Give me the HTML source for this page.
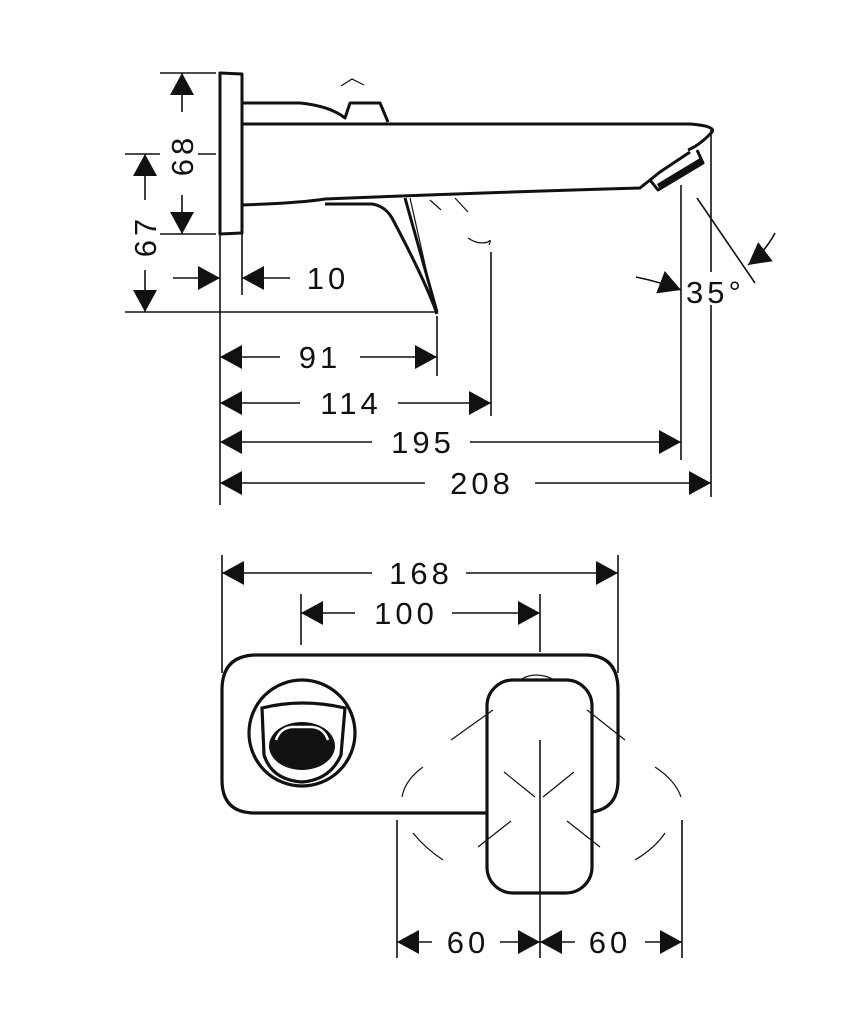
<!DOCTYPE html>
<html><head><meta charset="utf-8"><style>
html,body{margin:0;padding:0;background:#fff}
svg{display:block}
text{font-family:"Liberation Sans",sans-serif;font-size:31px;fill:#111;letter-spacing:4px}
</style></head><body>
<svg width="864" height="1024" viewBox="0 0 864 1024" xmlns="http://www.w3.org/2000/svg">
<defs>
<marker id="a" viewBox="0 0 22 24" refX="22" refY="12" markerWidth="22" markerHeight="24" markerUnits="userSpaceOnUse" orient="auto"><path d="M0,0 L22,12 L0,24 Z" fill="#111"/></marker>
</defs>
<g stroke="#111" fill="none" stroke-width="1.6">
<line x1="160" y1="73" x2="216" y2="73"/>
<line x1="160" y1="234" x2="216" y2="234"/>
<line x1="125" y1="154" x2="160" y2="154"/><line x1="198" y1="154" x2="216" y2="154"/>
<line x1="125" y1="312" x2="436" y2="312"/>
<line x1="220" y1="234" x2="220" y2="505"/>
<line x1="242" y1="234" x2="242" y2="295"/>
<line x1="437" y1="316" x2="437" y2="376"/>
<line x1="491" y1="252" x2="491" y2="416"/>
<line x1="681" y1="185" x2="681" y2="460"/>
<line x1="711" y1="130" x2="711" y2="272"/><line x1="711" y1="305" x2="711" y2="497"/>
<line x1="182" y1="112" x2="182" y2="73" marker-end="url(#a)"/>
<line x1="182" y1="195" x2="182" y2="234" marker-end="url(#a)"/>
<line x1="145" y1="200" x2="145" y2="154" marker-end="url(#a)"/>
<line x1="145" y1="270" x2="145" y2="312" marker-end="url(#a)"/>
<line x1="173" y1="278" x2="220" y2="278" marker-end="url(#a)"/>
<line x1="290" y1="278" x2="242" y2="278" marker-end="url(#a)"/>
<line x1="280" y1="357" x2="220" y2="357" marker-end="url(#a)"/><line x1="360" y1="357" x2="437" y2="357" marker-end="url(#a)"/>
<line x1="300" y1="403" x2="220" y2="403" marker-end="url(#a)"/><line x1="398" y1="403" x2="491" y2="403" marker-end="url(#a)"/>
<line x1="372" y1="442" x2="220" y2="442" marker-end="url(#a)"/><line x1="470" y1="442" x2="681" y2="442" marker-end="url(#a)"/>
<line x1="425" y1="483" x2="220" y2="483" marker-end="url(#a)"/><line x1="535" y1="483" x2="711" y2="483" marker-end="url(#a)"/>
<path d="M636,277 Q660,282 681,290" marker-end="url(#a)"/>
<path d="M775,233 Q765,252 748,265" marker-end="url(#a)"/>
<line x1="697" y1="198" x2="755" y2="283"/>
</g>
<g stroke="#111" fill="none" stroke-width="3" stroke-linejoin="round">
<path d="M220,73 L242,74 L242,233 L220,234 Z"/>
<path d="M242,103 L300,103 Q330,106 345,118 L350,103 L380,103 L388,122"/>
<path d="M242,124 L690,124 Q716,126 712,132 Q700,145 688,150"/>
<path d="M242,205 Q300,203 325,199 Q500,192 640,188 Q650,180 660,172 L690,152"/>
<path d="M650,180 L658,190 L703,163 L697,150"/>
<path d="M325,204 L372,204 Q385,206 392,218 Q425,280 437,314"/>
<path d="M405,198 L437,312"/>
</g>
<path d="M660,190 L703,164 L700,158 L657,184 Z" fill="#111"/>
<g stroke="#111" fill="none" stroke-width="1.2">
<path d="M410,198 L433,300"/>
<path d="M341,86 L352,79 L364,85"/>
<path d="M430,200 L441,210 M455,198 L468,212"/>
<path d="M468,238 Q478,245 488,242 Q492,238 489,245"/>
</g>
<g stroke="#111" fill="none" stroke-width="1.6">
<line x1="222" y1="555" x2="222" y2="673"/>
<line x1="618" y1="555" x2="618" y2="673"/>
<line x1="301" y1="594" x2="301" y2="645"/>
<line x1="540" y1="594" x2="540" y2="652"/>
<line x1="372" y1="573" x2="222" y2="573" marker-end="url(#a)"/><line x1="466" y1="573" x2="618" y2="573" marker-end="url(#a)"/>
<line x1="355" y1="613" x2="301" y2="613" marker-end="url(#a)"/><line x1="452" y1="613" x2="540" y2="613" marker-end="url(#a)"/>
<line x1="540" y1="740" x2="540" y2="958"/>
<line x1="397" y1="820" x2="397" y2="958"/>
<line x1="682" y1="820" x2="682" y2="958"/>
<line x1="432" y1="942" x2="397" y2="942" marker-end="url(#a)"/><line x1="500" y1="942" x2="540" y2="942" marker-end="url(#a)"/>
<line x1="575" y1="942" x2="540" y2="942" marker-end="url(#a)"/><line x1="645" y1="942" x2="682" y2="942" marker-end="url(#a)"/>
</g>
<g stroke="#111" fill="none" stroke-width="3.2">
<path d="M487,813 L255,813 Q222,813 222,780 L222,690 Q222,655 257,655 L585,655 Q618,655 618,690 L618,780 Q618,808 592,812"/>
<circle cx="302" cy="733" r="53"/>
<path d="M262,708 Q302,698 345,708 L341,755 Q330,780 302,782 Q272,780 264,755 Z"/>
<rect x="487" y="680" width="105" height="213" rx="26"/>
</g>
<ellipse cx="302" cy="746" rx="33" ry="24" fill="#111"/>
<path d="M276,740 Q280,728 292,727 L312,727 Q324,728 328,740" stroke="#fff" stroke-width="2.5" fill="none"/>
<g stroke="#111" fill="none" stroke-width="1.2">
<path d="M520,680 Q535,670 555,680"/>
<path d="M451,740 L493,710 M587,710 L625,740"/>
<path d="M504,772 L535,797 M574,772 L543,797"/>
<path d="M511,821 L478,847 M567,821 L600,847"/>
<path d="M423,767 Q405,780 402,797 M443,860 Q425,848 413,833"/>
<path d="M655,767 Q675,780 681,797 M635,860 Q655,848 665,833"/>
</g>
<g>
<text x="182" y="155" text-anchor="middle" transform="rotate(-90 182 155)" dy="11">68</text>
<text x="145" y="236" text-anchor="middle" transform="rotate(-90 145 236)" dy="11">67</text>
<text x="328" y="289" text-anchor="middle">10</text>
<text x="320" y="368" text-anchor="middle">91</text>
<text x="351" y="414" text-anchor="middle">114</text>
<text x="423" y="453" text-anchor="middle">195</text>
<text x="482" y="494" text-anchor="middle">208</text>
<text x="686" y="303">35°</text>
<text x="421" y="584" text-anchor="middle">168</text>
<text x="406" y="624" text-anchor="middle">100</text>
<text x="468" y="953" text-anchor="middle">60</text>
<text x="610" y="953" text-anchor="middle">60</text>
</g>
</svg>
</body></html>
